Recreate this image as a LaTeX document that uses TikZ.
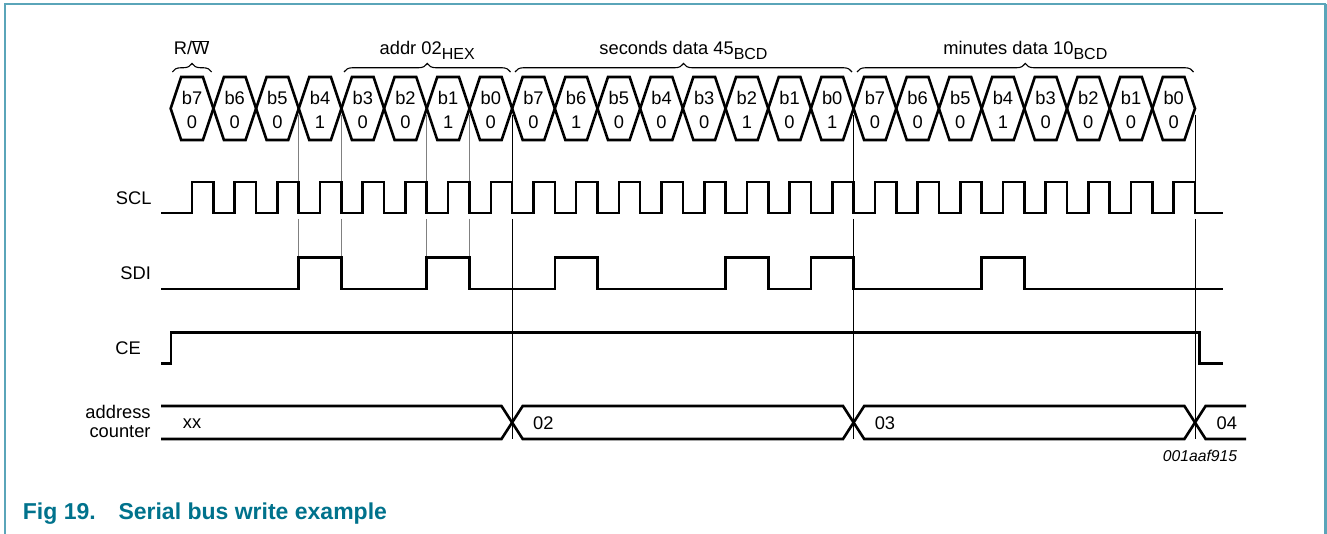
\documentclass[tikz,border=0pt]{standalone}
\usepackage{fontspec}
\setmainfont{Liberation Sans}
\usetikzlibrary{decorations.pathreplacing}
\definecolor{frameteal}{RGB}{90,165,185}
\definecolor{capteal}{RGB}{0,114,140}
\newcommand{\sbx}[1]{\raisebox{-4.5pt}{\fontsize{16}{16}\selectfont #1}}
\begin{document}
\begin{tikzpicture}[x=1pt,y=-1pt,
  sig/.style={line width=2.6pt, line join=miter},
  hexa/.style={line width=2.6pt, line join=miter},
  guide/.style={line width=0.9pt, black!50},
  blackguide/.style={line width=0.9pt, black},
  lab/.style={inner sep=0pt, font=\fontsize{18.3}{19.5}\selectfont},
  docid/.style={inner sep=0pt, font=\fontsize{15.7}{16}\selectfont\itshape},
  caption/.style={inner sep=0pt, text=capteal, font=\fontsize{23}{24}\selectfont\bfseries},
  bracestyle/.style={decorate, decoration={brace, amplitude=8.5pt}, line width=1.1pt},
  framestyle/.style={frameteal, line width=1.5pt}
]
\useasboundingbox (0,0) rectangle (1327,534);
% frame
\draw[framestyle] (5,534) -- (5,4) -- (1325.5,4);
\draw[frameteal, line width=2.5pt] (1325.5,4) -- (1325.5,534);

% hexagons (bit cells)
\foreach \v [count=\k from 0] in {0,0,0,1,0,0,1,0, 0,1,0,0,0,1,0,1, 0,0,0,1,0,0,0,0}{
  \pgfmathsetmacro\xa{170.7+42.68*\k}
  \pgfmathsetmacro\xb{\xa+42.68}
  \pgfmathsetmacro\xc{\xa+21.34}
  \pgfmathtruncatemacro\bn{7-mod(\k,8)}
  \draw[hexa] (\xa,108.5) -- ({\xa+10.5},77) -- ({\xb-10.5},77) -- (\xb,108.5)
     -- ({\xb-10.5},140) -- ({\xa+10.5},140) -- cycle;
  \node[lab, anchor=base] (bn\k) at (\xc,105) {b\bn};
  \node[lab, anchor=base] (bv\k) at (\xc,128.3) {\v};
}

% braces and group labels
\draw[bracestyle] (172.3,72) -- (211.7,72);
\node[lab, anchor=base] (rw) at (191.7,55) {R/$\overline{\hbox{W}}$};
\draw[bracestyle] (344,72) -- (510.5,72);
\node[lab, anchor=base] (addr) at (427.2,55) {addr 02\sbx{HEX}};
\draw[bracestyle] (515,72) -- (852,72);
\node[lab, anchor=base] (secs) at (683.5,55) {seconds data 45\sbx{BCD}};
\draw[bracestyle] (857,72) -- (1193.5,72);
\node[lab, anchor=base] (mins) at (1025.3,55) {minutes data 10\sbx{BCD}};

% guide lines
\foreach \k in {3,4,6,7}{
  \pgfmathsetmacro\xa{170.7+42.68*\k}
  \draw[guide] (\xa,115) -- (\xa,182);
  \draw[guide] (\xa,219) -- (\xa,256);
}
\foreach \k in {8,16,24}{
  \pgfmathsetmacro\xa{170.7+42.68*\k}
  \draw[blackguide] (\xa,115) -- (\xa,182);
  \draw[blackguide] (\xa,219) -- (\xa,439);
}

% signal labels
\node[lab, anchor=base east] (scl) at (151.7,204.3) {SCL};
\node[lab, anchor=base east] (sdi) at (151.2,279.3) {SDI};
\node[lab, anchor=base east] (ce) at (141,354.3) {CE};
\node[lab, anchor=east, align=right] (ac) at (150.8,421.5) {address\\counter};

% SCL
\draw[sig] (161,213) \foreach \k in {0,...,23}{
  -- ({170.7+42.68*\k+21.34},213) -- ({170.7+42.68*\k+21.34},182)
  -- ({170.7+42.68*(\k+1)},182) -- ({170.7+42.68*(\k+1)},213) } -- (1223,213);

% SDI
\draw[sig] (161,289) \foreach \k in {3,6,9,13,15,19}{
  -- ({170.7+42.68*\k},289) -- ({170.7+42.68*\k},257.7)
  -- ({170.7+42.68*(\k+1)},257.7) -- ({170.7+42.68*(\k+1)},289) } -- (1223,289);

% CE
\draw[sig] (161,363.3) -- (171,363.3) -- (171,332.3) -- (1199.3,332.3) -- (1199.3,363.3) -- (1223,363.3);

% address counter bus
\draw[sig] (161,406) -- (501.5,406) -- (522.7,439) -- (843,439) -- (864.2,406) -- (1184.4,406) -- (1205.6,439) -- (1246,439);
\draw[sig] (161,439) -- (501.5,439) -- (522.7,406) -- (843,406) -- (864.2,439) -- (1184.4,439) -- (1205.6,406) -- (1246,406);
\node[lab, anchor=base west] (xx) at (182.7,428) {xx};
\node[lab, anchor=base west] (a02) at (533,429) {02};
\node[lab, anchor=base west] (a03) at (874.6,429) {03};
\node[lab, anchor=base west] (a04) at (1216.5,429) {04};

% document id
\node[docid, anchor=base east] (id) at (1237.3,461.7) {001aaf915};

% caption
\node[caption, anchor=base west] (fig) at (22.7,519) {Fig 19.};
\node[caption, anchor=base west] (title) at (118.3,519) {Serial bus write example};
\end{tikzpicture}
\end{document}
